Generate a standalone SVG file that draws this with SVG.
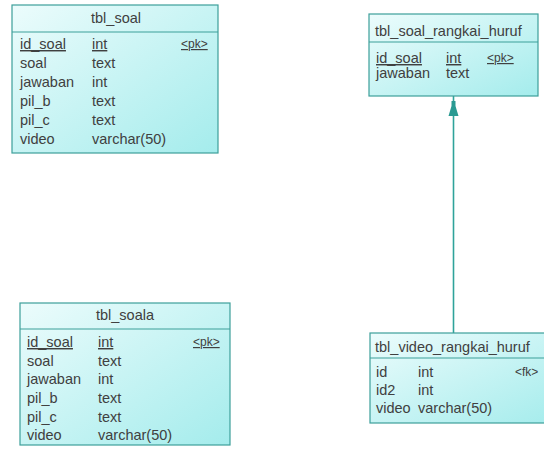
<svg xmlns="http://www.w3.org/2000/svg" width="544" height="452" viewBox="0 0 544 452">
  <style>
    .box { fill: url(#tblFill); stroke: #3d9f9a; stroke-width: 1.2; }
    .sep { stroke: #3d9f9a; stroke-width: 1.2; }
    text { font-family: "Liberation Sans", Arial, sans-serif; font-size: 14.5px; fill: #404040; }
    .title { text-anchor: middle; }
    .u { text-decoration: underline; }
    .key { font-size: 12px; }
    .link { stroke: #2fa39b; stroke-width: 1.6; fill: none; }
    .head { fill: #2a9a92; }
  </style>
  <defs>
    <linearGradient id="tblFill" x1="0" y1="0" x2="1" y2="1">
      <stop offset="0" stop-color="#ecfcfc"/>
      <stop offset="1" stop-color="#a4ecec"/>
    </linearGradient>
  </defs>

  <rect width="544" height="452" fill="#ffffff"/>

  <!-- reference from tbl_video_rangkai_huruf to tbl_soal_rangkai_huruf -->
  <g id="connectors">
    <line class="link" x1="453.5" y1="333" x2="453.5" y2="96"/>
    <polygon class="head" points="451.5,101 455.5,101 455.5,106 458.5,116 448.5,116 451.5,106"/>
  </g>

  <!-- tbl_soal -->
  <g id="tbl_soal">
    <rect class="box" x="12" y="5" width="206" height="148"/>
    <line class="sep" x1="12" y1="32" x2="218" y2="32"/>
    <text class="title" x="116" y="23">tbl_soal</text>
    <text class="u" x="20" y="49">id_soal</text><text class="u" x="92" y="49">int</text><text class="u key" x="181" y="48">&lt;pk&gt;</text>
    <text x="20" y="68">soal</text><text x="92" y="68">text</text>
    <text x="20" y="87">jawaban</text><text x="92" y="87">int</text>
    <text x="20" y="106">pil_b</text><text x="92" y="106">text</text>
    <text x="20" y="125">pil_c</text><text x="92" y="125">text</text>
    <text x="20" y="144">video</text><text x="92" y="144">varchar(50)</text>
  </g>

  <!-- tbl_soala -->
  <g id="tbl_soala">
    <rect class="box" x="20" y="303" width="210" height="142"/>
    <line class="sep" x1="20" y1="329" x2="230" y2="329"/>
    <text class="title" x="125" y="320">tbl_soala</text>
    <text class="u" x="27" y="347">id_soal</text><text class="u" x="98" y="347">int</text><text class="u key" x="193" y="346">&lt;pk&gt;</text>
    <text x="27" y="366">soal</text><text x="98" y="366">text</text>
    <text x="27" y="384">jawaban</text><text x="98" y="384">int</text>
    <text x="27" y="403">pil_b</text><text x="98" y="403">text</text>
    <text x="27" y="422">pil_c</text><text x="98" y="422">text</text>
    <text x="27" y="440">video</text><text x="98" y="440">varchar(50)</text>
  </g>

  <!-- tbl_soal_rangkai_huruf -->
  <g id="tbl_soal_rangkai_huruf">
    <rect class="box" x="369" y="14" width="169" height="82"/>
    <line class="sep" x1="369" y1="42" x2="538" y2="42"/>
    <text x="375" y="36">tbl_soal_rangkai_huruf</text>
    <text class="u" x="376" y="63">id_soal</text><text class="u" x="446" y="63">int</text><text class="u key" x="487" y="62">&lt;pk&gt;</text>
    <text x="376" y="78">jawaban</text><text x="446" y="78">text</text>
  </g>

  <!-- tbl_video_rangkai_huruf -->
  <g id="tbl_video_rangkai_huruf">
    <rect class="box" x="370" y="333" width="190" height="90"/>
    <line class="sep" x1="370" y1="358" x2="560" y2="358"/>
    <text x="375" y="352">tbl_video_rangkai_huruf</text>
    <text x="376" y="377">id</text><text x="418" y="377">int</text><text class="key" x="515" y="376">&lt;fk&gt;</text>
    <text x="376" y="395">id2</text><text x="418" y="395">int</text>
    <text x="376" y="413">video</text><text x="418" y="413">varchar(50)</text>
  </g>
</svg>
